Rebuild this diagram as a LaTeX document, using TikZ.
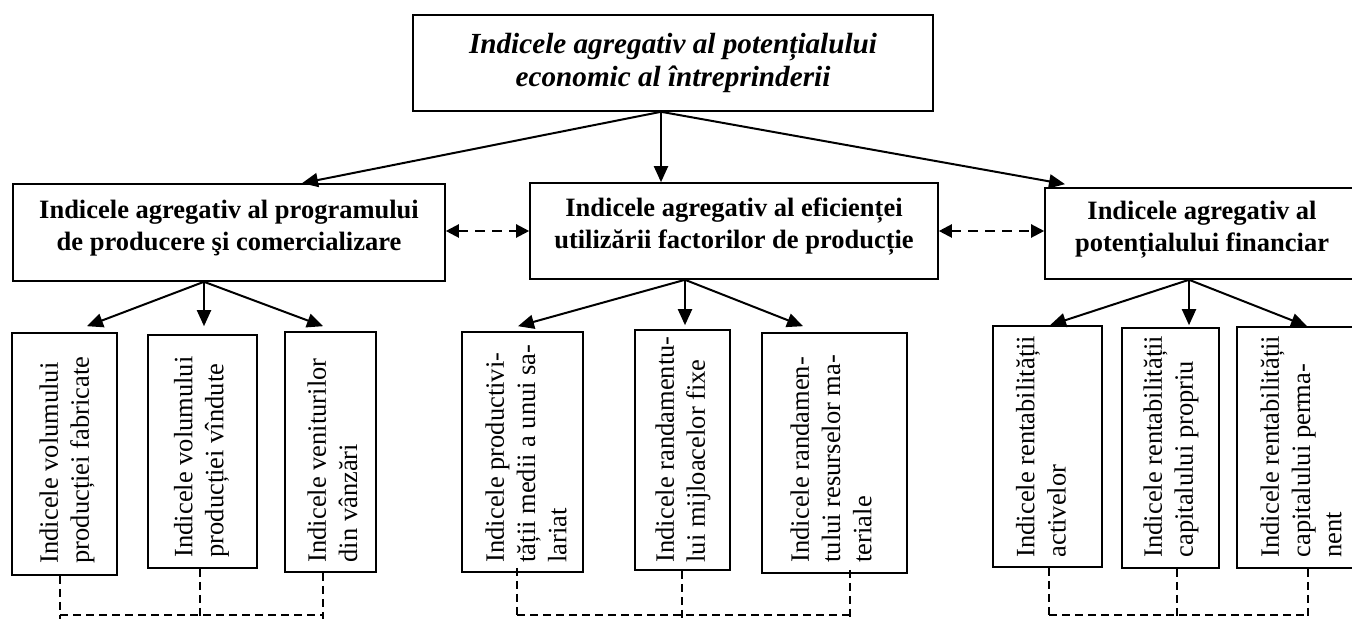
\documentclass[tikz,border=0pt]{standalone}
\usepackage{fontspec}
\setmainfont{Liberation Serif}
\usetikzlibrary{arrows.meta}

\begin{document}
\begin{tikzpicture}[x=0.5pt,y=-0.5pt,
  box/.style={draw, line width=0.8pt, inner sep=0pt},
  toptext/.style={font=\fontsize{14.6}{16.4}\selectfont\bfseries\itshape, align=center, inner sep=0pt},
  midtext/.style={font=\fontsize{13.25}{16}\selectfont\bfseries, align=center, inner sep=0pt},
  vtext/.style={font=\fontsize{13.25}{15.6}\selectfont, align=left, rotate=90, anchor=west, inner sep=0pt},
  arr/.style={line width=1pt, -{Triangle[length=8pt,width=7pt]}},
  darr/.style={line width=1.1pt, dash pattern=on 5pt off 3.5pt,
    {Triangle[length=6.5pt,width=6.5pt]}-{Triangle[length=6.5pt,width=6.5pt]}},
  link/.style={line width=0.75pt, dash pattern=on 4pt off 2.5pt}]
\useasboundingbox (0,0) rectangle (1352,619);
\clip (0,0) rectangle (1352,619);

% top level
\node[box, minimum width=260pt, minimum height=48pt] (T) at (673,63) {};
\node[toptext] (Tt) at (673,63) {Indicele agregativ al potențialului\\economic al întreprinderii};

% second level
\node[box, minimum width=216pt, minimum height=48.5pt] (P) at (229,232.5) {};
\node[midtext] (Pt) at (229,228.5) {Indicele agregativ al programului\\de producere şi comercializare};
\node[box, minimum width=204pt, minimum height=48pt] (E) at (734,231) {};
\node[midtext] (Et) at (734,227) {Indicele agregativ al eficienței\\utilizării factorilor de producție};
\node[box, minimum width=157pt, minimum height=45.5pt] (F) at (1202,233.5) {};
\node[midtext] (Ft) at (1202,230) {Indicele agregativ al\\potențialului financiar};

% third level boxes
\node[box, minimum width=52.5pt, minimum height=121pt] (a1) at (64.5,454) {};
\node[box, minimum width=54.5pt, minimum height=116.5pt] (a2) at (202.5,451.5) {};
\node[box, minimum width=45.5pt, minimum height=120pt] (a3) at (330.5,452) {};
\node[box, minimum width=60.5pt, minimum height=120pt] (b1) at (522.5,452) {};
\node[box, minimum width=47.5pt, minimum height=120pt] (b2) at (682.5,450) {};
\node[box, minimum width=72.5pt, minimum height=120pt] (b3) at (834.5,453) {};
\node[box, minimum width=54.5pt, minimum height=120.5pt] (c1) at (1047.5,446.5) {};
\node[box, minimum width=48.5pt, minimum height=120pt] (c2) at (1170.5,448) {};
\node[box, minimum width=64pt, minimum height=120.5pt] (c3) at (1301,447.5) {};

% rotated labels
\node[vtext] (a1t) at ([xshift=1.25pt,yshift=6pt]a1.south) {Indicele volumului\\producției fabricate};
\node[vtext] (a2t) at ([xshift=-0.5pt,yshift=5.5pt]a2.south) {Indicele volumului\\producției vîndute};
\node[vtext] (a3t) at ([xshift=1pt,yshift=5pt]a3.south) {Indicele veniturilor\\din vânzări};
\node[vtext] (b1t) at ([xshift=1.75pt,yshift=5pt]b1.south) {Indicele productivi-\\tății medii a unui sa-\\lariat};
\node[vtext] (b2t) at ([xshift=0.25pt,yshift=4pt]b2.south) {Indicele randamentu-\\lui mijloacelor fixe};
\node[vtext] (b3t) at ([xshift=-1.75pt,yshift=5.5pt]b3.south) {Indicele randamen-\\tului resurselor ma-\\teriale};
\node[vtext] (c1t) at ([xshift=-3.25pt,yshift=5pt]c1.south) {Indicele rentabilității\\activelor};
\node[vtext] (c2t) at ([xshift=0.25pt,yshift=5.5pt]c2.south) {Indicele rentabilității\\capitalului propriu};
\node[vtext] (c3t) at ([yshift=5.5pt]c3.south) {Indicele rentabilității\\capitalului perma-\\nent};

% top level to second level
\draw[arr] ([xshift=-6pt]T.south) -- ([xshift=36.5pt]P.north);
\draw[arr] ([xshift=-6pt]T.south) -- ([xshift=-36.5pt]E.north);
\draw[arr] ([xshift=-6pt]T.south) -- ([xshift=-68.5pt,yshift=1.5pt]F.north);

% links between second level blocks
\draw[darr] (P.east |- 0,231) -- (E.west |- 0,231);
\draw[darr] (E.east |- 0,231) -- (F.west |- 0,231);

% second level to third level
\draw[arr] ([xshift=-12.5pt]P.south) -- ([xshift=11.25pt,yshift=3pt]a1.north);
\draw[arr] ([xshift=-12.5pt]P.south) -- ([xshift=0.75pt,yshift=4pt]a2.north);
\draw[arr] ([xshift=-12.5pt]P.south) -- ([xshift=-3.75pt,yshift=2.5pt]a3.north);
\draw[arr] ([xshift=-24.5pt]E.south) -- ([xshift=-2.25pt,yshift=2.5pt]b1.north);
\draw[arr] ([xshift=-24.5pt]E.south) -- ([xshift=1.25pt,yshift=2pt]b2.north);
\draw[arr] ([xshift=-24.5pt]E.south) -- ([xshift=-15.75pt,yshift=3pt]b3.north);
\draw[arr] ([xshift=-6.5pt]F.south) -- ([xshift=1.25pt]c1.north);
\draw[arr] ([xshift=-6.5pt]F.south) -- ([xshift=9.25pt,yshift=1pt]c2.north);
\draw[arr] ([xshift=-6.5pt]F.south) -- ([xshift=3pt]c3.north);

% dashed links under the third level
\coordinate (bus) at (0,615);
\coordinate (edge) at (0,622);
\coordinate (la1) at ([xshift=-2.25pt]a1.south);
\coordinate (la2) at ([xshift=-1.25pt]a2.south);
\coordinate (la3) at ([xshift=-3.75pt]a3.south);
\coordinate (lb1) at ([xshift=-2.75pt,yshift=2.5pt]b1.south);
\coordinate (lb2) at ([xshift=-0.25pt]b2.south);
\coordinate (lb3) at ([xshift=7.75pt,yshift=2pt]b3.south);
\coordinate (lc1) at ([xshift=0.75pt]c1.south);
\coordinate (lc2) at ([xshift=3.25pt]c2.south);
\coordinate (lc3) at ([xshift=3.5pt]c3.south);
\foreach \p in {la1,la2,la3,lb1,lb2,lb3,lc1,lc2,lc3}
  \draw[link] (\p) -- (\p |- edge);
\draw[link] (la1 |- bus) -- (la3 |- bus);
\draw[link] (lb1 |- bus) -- (lb3 |- bus);
\draw[link] (lc1 |- bus) -- (lc3 |- bus);
\end{tikzpicture}
\end{document}
